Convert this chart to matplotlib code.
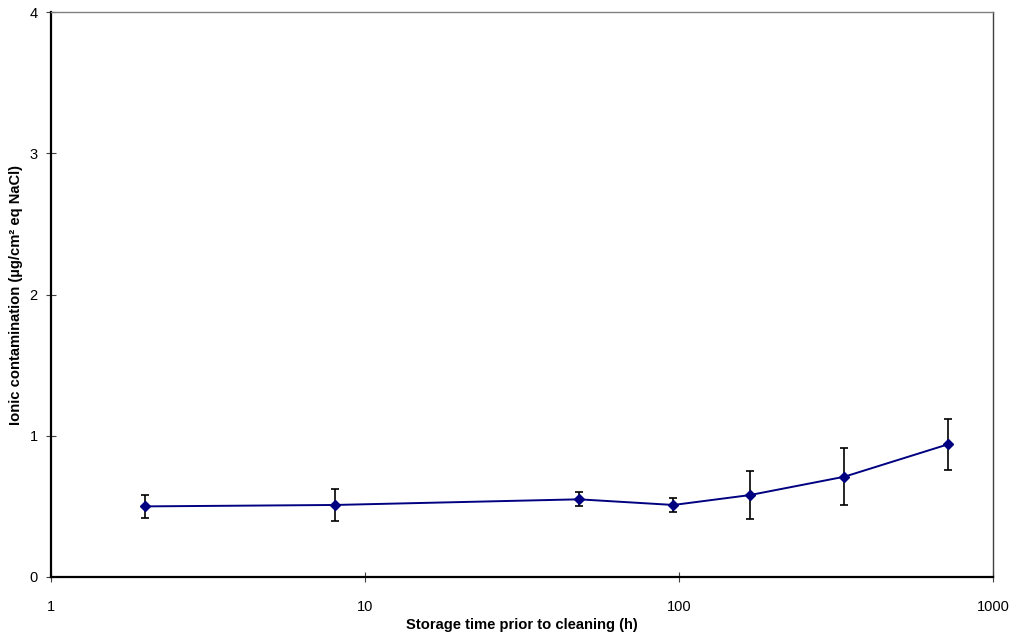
import matplotlib
matplotlib.use("Agg")
import matplotlib.pyplot as plt
import numpy as np

plt.rcParams["font.family"] = ["Liberation Sans", "DejaVu Sans"]

# storage time (h) and ionic contamination with error bars
hours = [2, 8, 48, 96, 168, 336, 720]
contamination = [0.50, 0.51, 0.55, 0.51, 0.58, 0.71, 0.94]
err = [0.08, 0.11, 0.05, 0.05, 0.17, 0.20, 0.18]

fig = plt.figure(figsize=(10.15, 6.37), dpi=100)
ax = fig.add_axes([0.0502, 0.0942, 0.9282, 0.8868])

ax.errorbar(hours, contamination, yerr=err, fmt="none", ecolor="black",
            elinewidth=1.2, capsize=3.2, capthick=1.2, zorder=2)
ax.plot(hours, contamination, color="#000080", lw=1.4, marker="D",
        markersize=5.5, markerfacecolor="#000080", markeredgecolor="#000080", zorder=3)

ax.set_xscale("log")
ax.set_xlim(1, 1000)
ax.set_ylim(0, 4)
ax.set_xticks([1, 10, 100, 1000])
ax.set_xticklabels(["1", "10", "100", "1000"])
ax.xaxis.set_minor_locator(matplotlib.ticker.NullLocator())
ax.set_yticks([0, 1, 2, 3, 4])

ax.spines["left"].set_linewidth(1.6)
ax.spines["bottom"].set_linewidth(1.6)
ax.spines["top"].set_color("#808080")
ax.spines["right"].set_color("#404040")
ax.spines["top"].set_linewidth(1)
ax.spines["right"].set_linewidth(1)

ax.tick_params(axis="both", direction="inout", length=7, width=0.8,
               color="#404040", labelsize=10.5)
ax.tick_params(axis="x", pad=13)
ax.tick_params(axis="y", pad=6)

ax.set_xlabel("Storage time prior to cleaning (h)", fontsize=10.6,
              fontweight="bold", labelpad=3)
ax.set_ylabel("Ionic contamination (µg/cm² eq NaCl)", fontsize=10.6,
              fontweight="bold", labelpad=5)

fig.savefig("out.png", dpi=100)
